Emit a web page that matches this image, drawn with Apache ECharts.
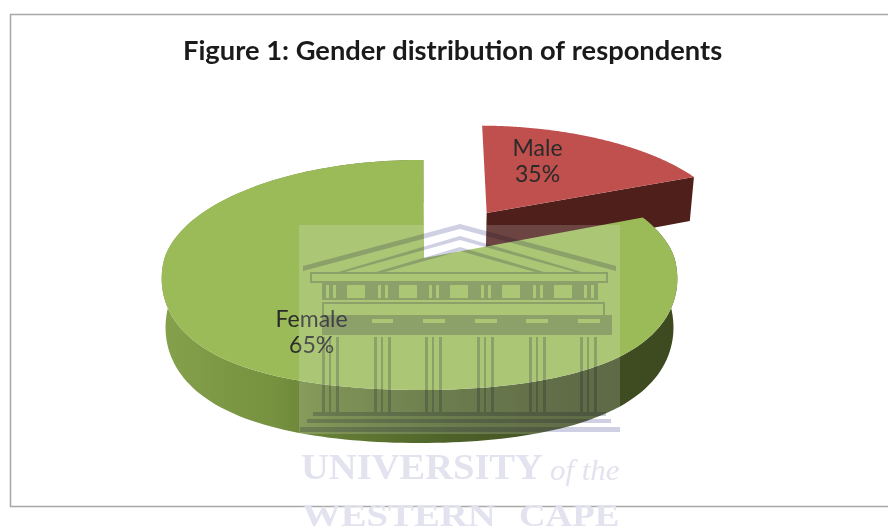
<!DOCTYPE html>
<html><head><meta charset="utf-8">
<style>html,body{margin:0;padding:0;background:#fff}#c{width:888px;height:530px}</style>
<script src="https://cdn.jsdelivr.net/npm/echarts@6/dist/echarts.min.js"></script>
</head><body><div id="c"></div>
<script>
const titleText = 'Figure 1: Gender distribution of respondents';
const categories = ['Male', 'Female'];
// The printed percentages.
const labelPercents = [35, 65];
// Wedge sizes as actually drawn in the picture (they differ from the printed labels).
const drawnShares = [18.5, 81.5];
const sliceColors = ['#c0504d', '#9bbb59'];
const watermarkLines = ['UNIVERSITY', 'of the', 'WESTERN', 'CAPE'];

// Perspective view of the disc
const view = {cx: 419.5, cy: 258, a: 112.5, b: 255, k: 0.148, startDeg: 1, front: 26};
const rimShift = {Male: [0.28, -0.425], Female: [0, 0]};
const apexShift = {Male: [0.28, -0.425], Female: [0.018, 0]};
const labelAt = {Male: [0.53, -0.98], Female: [-0.386, 0.59]};

function project(X, Z, lowered) {
  const d = 1 - view.k * Z;
  const x = view.b * X / d;
  let y = view.a * Z / d;
  if (Z > 0) y += view.front * X * X * Z;
  if (!lowered) return [view.cx + x, view.cy + y];
  return [view.cx + x * 0.985, view.cy + y + 48 + 5 * Z];
}

const total = drawnShares.reduce((s, v) => s + v, 0);
function renderSlice(params, api) {
  const i = params.dataIndex;
  const before = drawnShares.slice(0, i).reduce((s, v) => s + v, 0);
  const t0 = (before / total * 360 + view.startDeg) * Math.PI / 180;
  const t1 = t0 + api.value(0) / total * 2 * Math.PI;
  const name = categories[i];
  const [ox, oz] = rimShift[name];
  const rim = [], low = [];
  const steps = 180;
  for (let s = 0; s <= steps; s++) {
    const t = t0 + (t1 - t0) * s / steps;
    const X = ox + Math.sin(t), Z = oz - Math.cos(t);
    rim.push(project(X, Z, false));
    low.push(project(X, Z, true));
  }
  const apex = project(apexShift[name][0], apexShift[name][1], false);
  const apexLow = project(apexShift[name][0], apexShift[name][1], true);
  const isMale = name === 'Male';
  const children = [];
  if (isMale) {
    children.push({type: 'polygon', shape: {points: [apex, rim[rim.length - 1], low[low.length - 1], apexLow]}, style: {fill: '#4f1f1c'}});
  } else {
    children.push({type: 'polygon', shape: {points: rim.concat(low.slice().reverse())}, style: {fill: {
      type: 'linear', x: 0, y: 0, x2: 1, y2: 0,
      colorStops: [
        {offset: 0, color: '#86a14c'}, {offset: 0.22, color: '#76913f'},
        {offset: 0.34, color: '#647c35'}, {offset: 0.55, color: '#4e632a'},
        {offset: 0.8, color: '#404e22'}, {offset: 1, color: '#3d4a20'}
      ]
    }}});
  }
  children.push({type: 'polygon', shape: {points: [apex].concat(rim)}, style: {fill: sliceColors[i]}});
  const lp = project(labelAt[name][0], labelAt[name][1], false);
  children.push({type: 'text', z2: 10, style: {
    text: name + '\n' + api.value(1) + '%', x: lp[0], y: lp[1], align: 'center', verticalAlign: 'middle',
    fontFamily: 'Lato', fontSize: 23, lineHeight: 26, fill: '#2a2a2a'
  }});
  return {type: 'group', children};
}

// Pale institutional watermark laid over the chart
function r(x, y, w, h) { return `M${x} ${y}h${w}v${h}h${-w}Z`; }
function buildingPath() {
  let p = '';
  // pediment
  p += 'M303 266L460 224L616 266L616 271L460 229L303 271Z';
  p += 'M338 272L460 236L582 272L575 272L460 240L345 272Z';
  p += 'M376 272L460 247L544 272L535 272L460 251L385 272Z';
  p += r(310, 272, 298, 2) + r(310, 281, 298, 2) + r(310, 274, 2, 7) + r(606, 274, 2, 7);
  // frieze
  p += r(322, 283, 276, 2) + r(322, 298, 276, 2);
  [[322, 347, 330], [365, 399, 382], [417, 450, 433], [468, 502, 485], [520, 554, 537], [572, 598, 588]].forEach(([a, b, c]) => {
    p += r(a, 285, c - 4 - a, 13) + r(c - 1, 285, 4, 13) + r(c + 6, 285, b - c - 6, 13);
  });
  // architrave
  p += r(322, 302, 283, 2) + r(322, 304, 2, 11) + r(603, 304, 2, 11);
  p += r(322, 315, 290, 4) + r(322, 323, 290, 12);
  [[322, 372], [393, 423], [445, 475], [497, 526], [548, 578], [600, 612]].forEach(([a, b]) => {
    p += r(a, 319, b - a, 4);
  });
  // columns
  [330, 382, 433, 485, 537, 588].forEach(c => {
    p += r(c - 8, 337, 3, 75) + r(c - 1, 337, 2, 75) + r(c + 6, 337, 3, 75);
  });
  // steps
  p += r(313, 412, 293, 4) + r(307, 419, 304, 4) + r(300, 427, 320, 5);
  return p;
}
function renderBuilding() {
  return {type: 'path', shape: {pathData: buildingPath()}, style: {fill: '#cfd0e4'}};
}
function renderWatermark() {
  const txt = (text, x, y, size, sx, extra) => ({type: 'text', x, y, scaleX: sx, style: Object.assign({
    text, x: 0, y: 0, fill: '#e2e3ee', fontFamily: 'Liberation Serif', fontSize: size, fontWeight: 'bold',
    verticalAlign: 'middle', align: 'left'
  }, extra || {})});
  return {type: 'group', children: [
    {type: 'rect', shape: {x: 299, y: 225, width: 321, height: 209}, style: {fill: 'rgba(255,255,255,0.17)'}},
    txt(watermarkLines[0], 301, 470, 36, 1.07),
    txt(watermarkLines[1], 550, 472, 30, 1.03, {fontStyle: 'italic', fontWeight: 'normal'}),
    txt(watermarkLines[2], 302, 518, 32, 1.21),
    txt(watermarkLines[3], 519, 518, 32, 1.15)
  ]};
}

const chart = echarts.init(document.getElementById('c'), null, {renderer: 'canvas'});
chart.setOption({
  animation: false,
  backgroundColor: '#fff',
  title: {
    text: titleText, top: 33, left: 178,
    textStyle: {fontFamily: 'Lato', fontWeight: 'bold', fontSize: 27.3, color: '#1a1a1a'}
  },
  graphic: [{
    type: 'rect', silent: true, shape: {x: 10.5, y: 14.5, width: 900, height: 492},
    style: {fill: 'transparent', stroke: '#a8a8a8', lineWidth: 1.5}
  }],
  series: [
    {
      type: 'custom', coordinateSystem: 'none', renderItem: renderSlice, silent: true, z: 3,
      data: categories.map((c, i) => ({name: c, value: [drawnShares[i], labelPercents[i]]}))
    },
    {type: 'custom', coordinateSystem: 'none', renderItem: renderWatermark, silent: true, z: 4, data: [0]},
    {type: 'custom', coordinateSystem: 'none', renderItem: renderBuilding, silent: true, z: 5, blendMode: 'multiply', data: [0]}
  ]
});
</script></body></html>
